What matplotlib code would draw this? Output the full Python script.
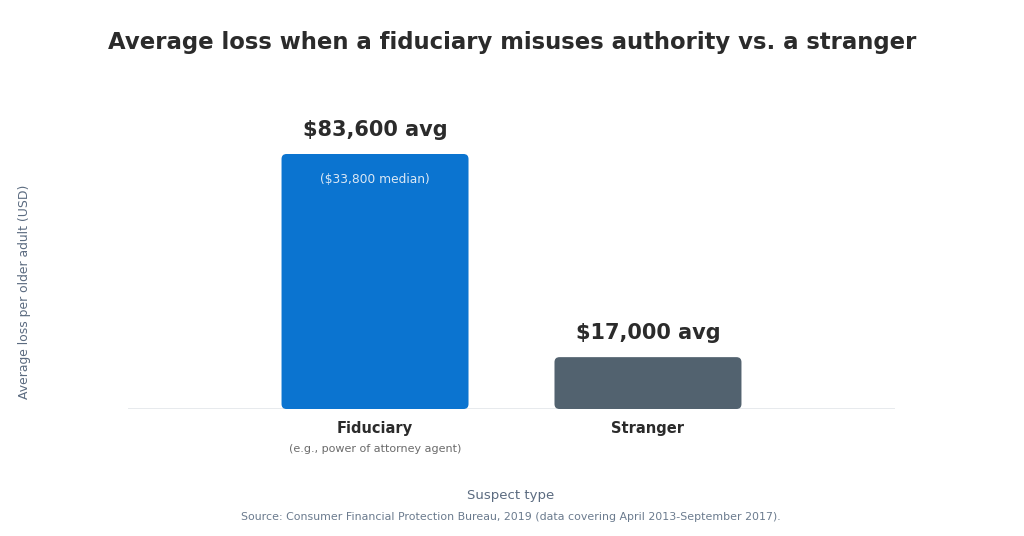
import matplotlib
matplotlib.use("Agg")
import matplotlib.pyplot as plt
from matplotlib.patches import FancyBboxPatch

# data
categories = ["Fiduciary", "Stranger"]
sub_labels = ["(e.g., power of attorney agent)", ""]
avg_loss = [83600, 17000]
value_labels = ["$83,600 avg", "$17,000 avg"]
inner_notes = ["($33,800 median)", ""]
colors = ["#0b74d0", "#52626f"]

fig = plt.figure(figsize=(10.24, 5.36), dpi=100)
# axes: x 128-895 px, y baseline 409 px, top 100 px
ax = fig.add_axes([128 / 1024, 1 - 409 / 536, 767 / 1024, 309 / 536])

ymax = max(avg_loss) * 309 / 255
ax.set_ylim(0, ymax)
ax.set_xlim(-0.905, 1.905)

width = 0.685
x_px_per_unit = 767 / (1.905 + 0.905)
y_px_per_unit = 309 / ymax
rad_px = 5
pad = rad_px / x_px_per_unit
aspect = x_px_per_unit / y_px_per_unit

for i, (val, col) in enumerate(zip(avg_loss, colors)):
    patch = FancyBboxPatch(
        (i - width / 2 + pad, pad * aspect),
        width - 2 * pad,
        val - 2 * pad * aspect,
        boxstyle=f"round,pad={pad},rounding_size={pad}",
        mutation_aspect=aspect,
        facecolor=col,
        edgecolor="none",
        zorder=2,
    )
    ax.add_patch(patch)
    ax.text(i, val + ymax * 0.045, value_labels[i], ha="center", va="bottom",
            fontsize=15, fontweight="bold", color="#2b2b2b")
    if inner_notes[i]:
        ax.text(i, val - ymax * 0.082, inner_notes[i], ha="center", va="center",
                fontsize=8.8, color="#dbe8f5")

ax.axhline(0, color="#e3e6ea", linewidth=1.2, zorder=1)

for s in ax.spines.values():
    s.set_visible(False)
ax.set_yticks([])
ax.set_xticks([])

for i, (cat, sub) in enumerate(zip(categories, sub_labels)):
    ax.annotate(cat, xy=(i, 0), xycoords="data", xytext=(0, -14),
                textcoords="offset points", ha="center", va="center",
                fontsize=10.5, fontweight="bold", color="#2b2b2b")
    if sub:
        ax.annotate(sub, xy=(i, 0), xycoords="data", xytext=(0, -28.5),
                    textcoords="offset points", ha="center", va="center",
                    fontsize=8, color="#6b6b6b")

fig.text(0.5, 1 - 42 / 536, "Average loss when a fiduciary misuses authority vs. a stranger",
         ha="center", va="center", fontsize=16.4, fontweight="bold", color="#2b2b2b")
fig.text(25 / 1024, 1 - 292 / 536, "Average loss per older adult (USD)", rotation=90,
         ha="center", va="center", fontsize=8.9, color="#5b6b80")
fig.text(511 / 1024, 1 - 495 / 536, "Suspect type", ha="center", va="center",
         fontsize=9.5, color="#5b6b80")
fig.text(511 / 1024, 1 - 517 / 536,
         "Source: Consumer Financial Protection Bureau, 2019 (data covering April 2013-September 2017).",
         ha="center", va="center", fontsize=7.9, color="#6b7b8e")

fig.savefig("out.png", dpi=100)
